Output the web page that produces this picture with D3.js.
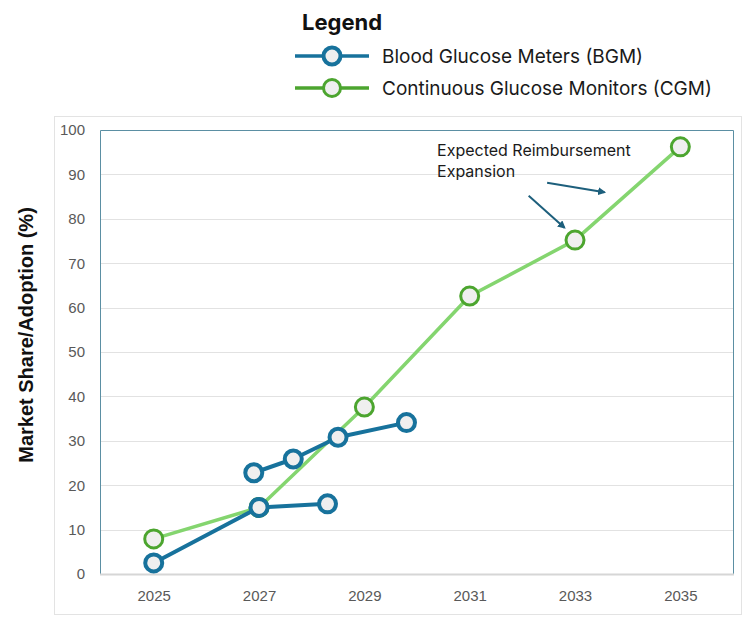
<!DOCTYPE html>
<html>
<head>
<meta charset="utf-8">
<script src="https://cdn.jsdelivr.net/npm/d3@7"></script>
<style>
  body { margin: 0; background: #fff; }
  svg { display: block; }
</style>
</head>
<body>
<div id="chart"></div>
<script>
// data
var yTicks = [0, 10, 20, 30, 40, 50, 60, 70, 80, 90, 100];
var xTickYears = [2025, 2027, 2029, 2031, 2033, 2035];

var cgmYears = [2025, 2027, 2029, 2031, 2033, 2035];
var cgmValues = [7.9, 15, 37.6, 62.6, 75.2, 96.2];

// BGM is drawn as two separate pieces
var bgmYearsA = [2025, 2027, 2028.3];
var bgmValuesA = [2.5, 15, 15.8];
var bgmYearsB = [2026.9, 2027.65, 2028.5, 2029.8];
var bgmValuesB = [22.8, 25.9, 30.8, 34.1];

var seriesNames = ["Blood Glucose Meters (BGM)", "Continuous Glucose Monitors (CGM)"];
var noteLines = ["Expected Reimbursement", "Expansion"];

function init() {
  var width = 750, height = 618;
  var plot = { left: 100, top: 130, right: 733, bottom: 574 };

  var blue = "#17729c", greenLine = "#84d56f", greenDark = "#4ca52f", fillC = "#efefef";

  var svg = d3.select("#chart").append("svg")
    .attr("width", width).attr("height", height);

  var x = d3.scaleLinear().domain([2023.98, 2036.0]).range([plot.left, plot.right]);
  var y = d3.scaleLinear().domain([0, 100]).range([plot.bottom, plot.top]);

  // outer frame
  svg.append("rect")
    .attr("x", 54.5).attr("y", 116.5).attr("width", 687).attr("height", 498)
    .attr("fill", "none").attr("stroke", "#e3e3e3");

  // gridlines
  svg.append("g").selectAll("line").data(yTicks.filter(function(d) { return d > 0 && d < 100; }))
    .enter().append("line")
    .attr("x1", plot.left).attr("x2", plot.right)
    .attr("y1", function(d) { return Math.round(y(d)) + 0.5; })
    .attr("y2", function(d) { return Math.round(y(d)) + 0.5; })
    .attr("stroke", "#e2e2e2").attr("stroke-width", 1);

  // plot border (left, top, right)
  svg.append("path")
    .attr("d", "M" + (plot.left + 0.5) + "," + plot.bottom + "V" + (plot.top + 0.5) +
      "H" + (plot.right + 0.5) + "V" + plot.bottom)
    .attr("fill", "none").attr("stroke", "#5b8fa3").attr("stroke-width", 1);

  // bottom axis line
  svg.append("line")
    .attr("x1", plot.left).attr("x2", plot.right + 1)
    .attr("y1", plot.bottom + 0.5).attr("y2", plot.bottom + 0.5)
    .attr("stroke", "#d6d6d6").attr("stroke-width", 2);

  // y axis labels
  var yAxis = d3.axisLeft(y).tickValues(yTicks).tickSize(0).tickPadding(0);
  var gy = svg.append("g").attr("transform", "translate(85,0)").call(yAxis);
  gy.select(".domain").remove();
  gy.selectAll("text")
    .attr("font-family", "'Liberation Sans', Arial, sans-serif")
    .attr("font-size", 15).attr("fill", "#595959");

  // x axis labels
  var xAxis = d3.axisBottom(x).tickValues(xTickYears).tickFormat(d3.format("d")).tickSize(0).tickPadding(0);
  var gx = svg.append("g").attr("transform", "translate(0,590)").call(xAxis);
  gx.select(".domain").remove();
  gx.selectAll("text")
    .attr("font-family", "'Liberation Sans', Arial, sans-serif")
    .attr("font-size", 15).attr("fill", "#595959");

  // y axis title
  svg.append("text")
    .attr("transform", "translate(33,335) rotate(-90)")
    .attr("text-anchor", "middle")
    .attr("font-family", "'Liberation Sans', Arial, sans-serif")
    .attr("font-weight", "bold").attr("font-size", 20).attr("fill", "#111")
    .text("Market Share/Adoption (%)");

  var line = d3.line().x(function(d) { return x(d[0]); }).y(function(d) { return y(d[1]); });

  var cgm = d3.zip(cgmYears, cgmValues);
  var bgmA = d3.zip(bgmYearsA, bgmValuesA);
  var bgmB = d3.zip(bgmYearsB, bgmValuesB);

  // CGM
  svg.append("path").datum(cgm).attr("d", line)
    .attr("fill", "none").attr("stroke", greenLine).attr("stroke-width", 3.5)
    .attr("stroke-linejoin", "round");
  svg.append("g").selectAll("circle").data(cgm).enter().append("circle")
    .attr("cx", function(d) { return x(d[0]); })
    .attr("cy", function(d) { return y(d[1]); })
    .attr("r", 9).attr("fill", fillC).attr("stroke", greenDark).attr("stroke-width", 3);

  // BGM
  [bgmA, bgmB].forEach(function(seg) {
    svg.append("path").datum(seg).attr("d", line)
      .attr("fill", "none").attr("stroke", blue).attr("stroke-width", 4)
      .attr("stroke-linejoin", "round");
  });
  svg.append("g").selectAll("circle").data(bgmA.concat(bgmB)).enter().append("circle")
    .attr("cx", function(d) { return x(d[0]); })
    .attr("cy", function(d) { return y(d[1]); })
    .attr("r", 8.5).attr("fill", fillC).attr("stroke", blue).attr("stroke-width", 4);

  // annotation
  var note = svg.append("text")
    .attr("x", x(2030.38)).attr("y", y(94.1))
    .attr("font-family", "Inter, 'Noto Sans', sans-serif")
    .attr("font-size", 16).attr("fill", "#1a1a1a");
  noteLines.forEach(function(t, i) {
    note.append("tspan").attr("x", x(2030.38)).attr("dy", i === 0 ? 0 : 21).text(t);
  });

  svg.append("defs").append("marker")
    .attr("id", "arrow").attr("viewBox", "0 0 10 10")
    .attr("refX", 8).attr("refY", 5)
    .attr("markerWidth", 4).attr("markerHeight", 4)
    .attr("orient", "auto")
    .append("path").attr("d", "M0,0L10,5L0,10z").attr("fill", "#1d5f7c");

  var arrows = [
    [[2032.47, 88.1], [2033.56, 86.0]],
    [[2032.12, 85.2], [2032.8, 78.0]]
  ];
  svg.append("g").selectAll("line").data(arrows).enter().append("line")
    .attr("x1", function(d) { return x(d[0][0]); })
    .attr("y1", function(d) { return y(d[0][1]); })
    .attr("x2", function(d) { return x(d[1][0]); })
    .attr("y2", function(d) { return y(d[1][1]); })
    .attr("stroke", "#1d5f7c").attr("stroke-width", 2)
    .attr("marker-end", "url(#arrow)");

  // legend
  svg.append("text")
    .attr("x", 302).attr("y", 30)
    .attr("font-family", "Inter, 'Noto Sans', sans-serif")
    .attr("font-weight", "bold").attr("font-size", 22).attr("fill", "#111")
    .text("Legend");

  var legendColors = [[blue, blue, 4], [greenDark, greenDark, 3]];
  var lg = svg.append("g").selectAll("g").data(seriesNames).enter().append("g")
    .attr("transform", function(d, i) { return "translate(0," + (56 + i * 32) + ")"; });
  lg.append("line")
    .attr("x1", 295).attr("x2", 369).attr("y1", 0).attr("y2", 0)
    .attr("stroke", function(d, i) { return legendColors[i][0]; })
    .attr("stroke-width", 3.5);
  lg.append("circle")
    .attr("cx", 332).attr("cy", 0).attr("r", 8.5)
    .attr("fill", fillC)
    .attr("stroke", function(d, i) { return legendColors[i][1]; })
    .attr("stroke-width", function(d, i) { return legendColors[i][2]; });
  lg.append("text")
    .attr("x", 382).attr("y", 0).attr("dy", "0.35em")
    .attr("font-family", "Inter, 'Noto Sans', sans-serif")
    .attr("font-size", 19).attr("fill", "#1a1a1a")
    .text(function(d) { return d; });
}

window.onload = init;
</script>
</body>
</html>
